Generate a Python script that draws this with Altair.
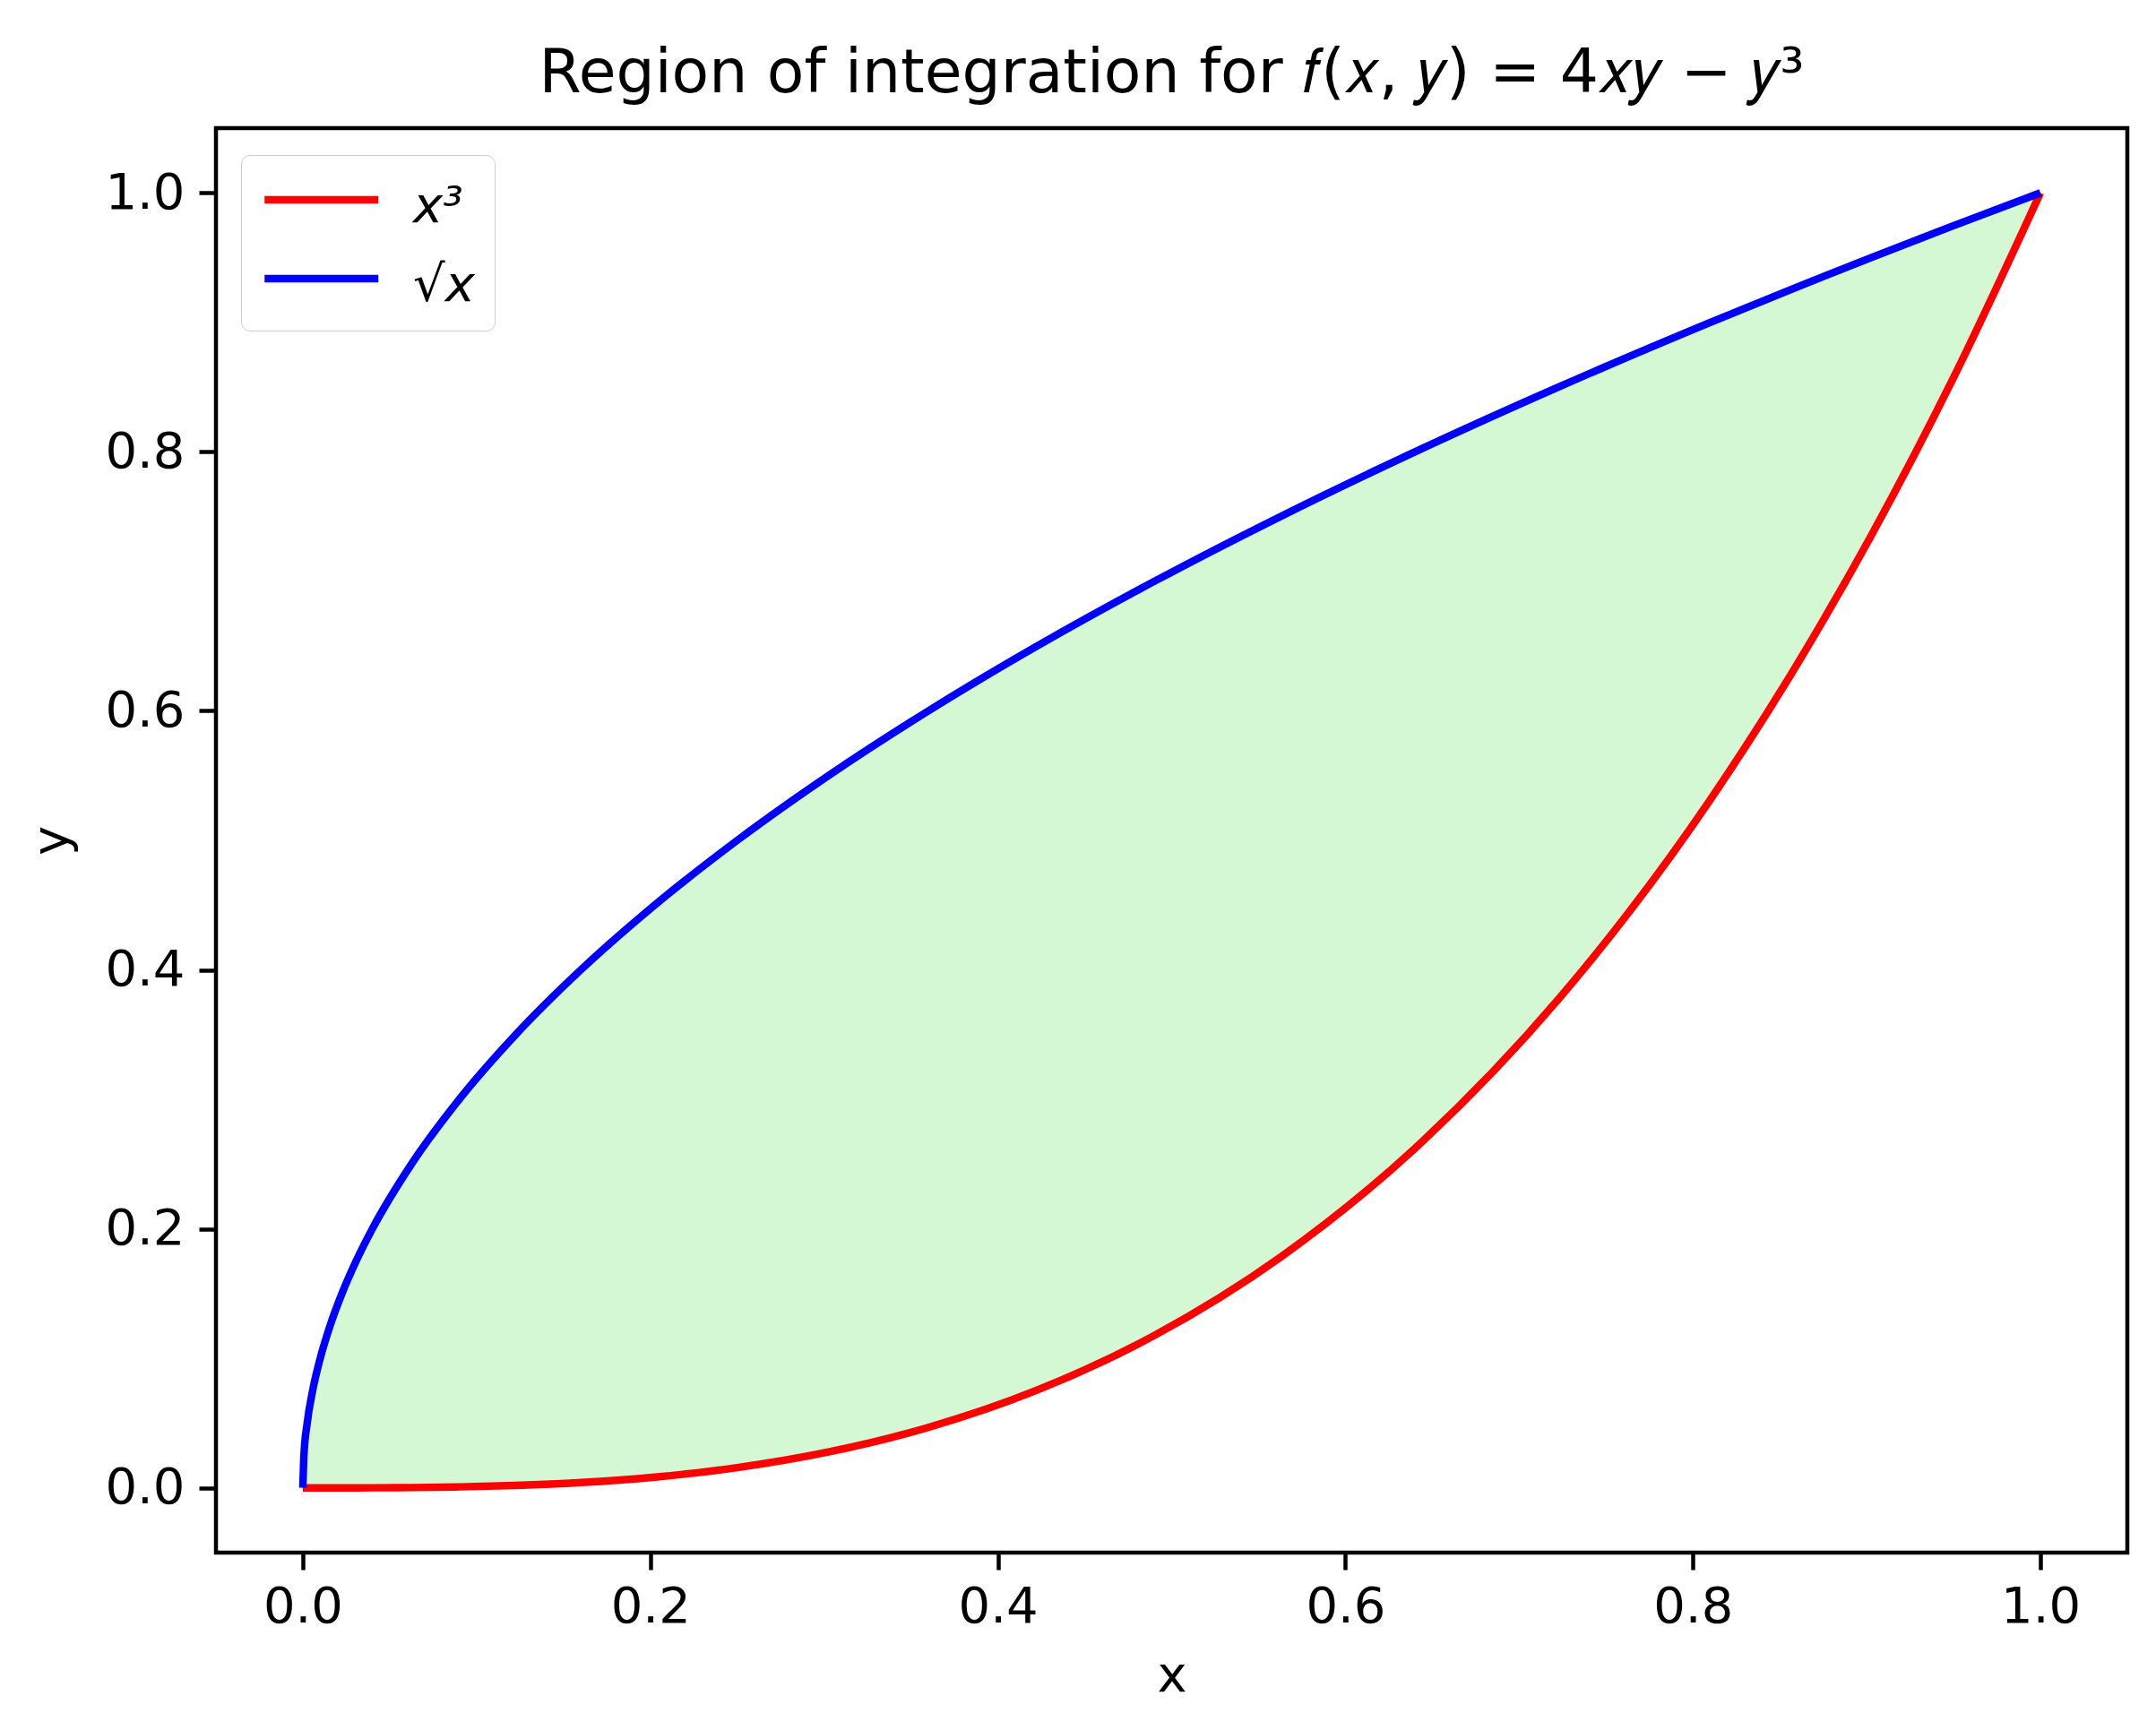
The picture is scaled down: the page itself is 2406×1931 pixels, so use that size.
import altair as alt
import pandas as pd

# sample points
x_vals = [0.0, 0.000625, 0.0025, 0.005625, 0.01, 0.015625, 0.0225, 0.030625, 0.04,
          0.0625, 0.09, 0.1225, 0.16, 0.2025, 0.25, 0.3025, 0.36, 0.4225, 0.49,
          0.5625, 0.64, 0.7225, 0.81, 0.86, 0.9025, 0.95, 1.0]
sqrt_vals = [0.0, 0.025, 0.05, 0.075, 0.1, 0.125, 0.15, 0.175, 0.2,
             0.25, 0.3, 0.35, 0.4, 0.45, 0.5, 0.55, 0.6, 0.65, 0.7,
             0.75, 0.8, 0.85, 0.9, 0.92736, 0.95, 0.974679, 1.0]
cube_vals = [0.0, 0.0, 0.0, 0.0000002, 0.000001, 0.0000038, 0.0000114, 0.0000287, 0.000064,
             0.000244, 0.000729, 0.001838, 0.004096, 0.008304, 0.015625, 0.027681, 0.046656,
             0.075419, 0.117649, 0.177979, 0.262144, 0.37715, 0.531441, 0.636056, 0.735092,
             0.857375, 1.0]

series_names = ["x³", "√x"]
series_colors = ["#ff0000", "#0000ff"]
tick_vals = [0.0, 0.2, 0.4, 0.6, 0.8, 1.0]

wide = pd.DataFrame({"x": x_vals, "upper": sqrt_vals, "lower": cube_vals})
long = pd.concat([
    pd.DataFrame({"x": x_vals, "y": cube_vals, "series": series_names[0], "order": 0}),
    pd.DataFrame({"x": x_vals, "y": sqrt_vals, "series": series_names[1], "order": 1}),
])

xs = alt.Scale(domain=[-0.05, 1.05], nice=False, zero=False)
ys = alt.Scale(domain=[-0.05, 1.05], nice=False, zero=False)

fill = alt.Chart(wide).mark_area(color="#d3f8d3", opacity=1, interpolate="monotone").encode(
    x=alt.X("x:Q", scale=xs),
    y=alt.Y("upper:Q", scale=ys),
    y2="lower:Q",
)

lines = alt.Chart(long).mark_line(strokeWidth=8.4, interpolate="monotone").encode(
    x=alt.X("x:Q", scale=xs, title="x",
            axis=alt.Axis(values=tick_vals, format=".1f", labelPadding=14, titlePadding=22)),
    y=alt.Y("y:Q", scale=ys, title="y",
            axis=alt.Axis(values=tick_vals, format=".1f", labelPadding=16, titlePadding=30)),
    color=alt.Color("series:N",
                    scale=alt.Scale(domain=series_names, range=series_colors),
                    legend=alt.Legend(
                        title=None, orient="none", legendX=28, legendY=30,
                        symbolType="M-1,-0.25L3,-0.25", symbolSize=4032, symbolStrokeWidth=8.4,
                        symbolOffset=0, labelOffset=98, rowPadding=24,
                        labelFontSize=56, labelFontStyle="italic", labelFont="DejaVu Sans",
                        labelColor="black",
                        padding=22, cornerRadius=10, strokeColor="#cccccc",
                        fillColor="rgba(255,255,255,0.8)",
                    )),
    detail="series:N",
    order="order:Q",
)

chart = alt.layer(fill, lines).properties(
    width=2133, height=1590,
    padding={"left": 21, "top": 41, "right": 5, "bottom": 5},
    title=alt.TitleParams(text="Region of integration for 𝑓(𝑥, 𝑦) = 4𝑥𝑦 − 𝑦³",
                          font="DejaVu Sans", fontSize=68, fontWeight="normal",
                          color="black", offset=26, anchor="middle"),
).configure_view(stroke="black", strokeWidth=4.5).configure_axis(
    grid=False, domain=False, tickColor="black", tickWidth=4.5, tickSize=19,
    labelFont="DejaVu Sans", labelFontSize=56, labelColor="black",
    titleFont="DejaVu Sans", titleFontSize=56, titleFontWeight="normal", titleColor="black",
)

chart.save("out.html", embed_options={"renderer": "svg", "actions": False})
